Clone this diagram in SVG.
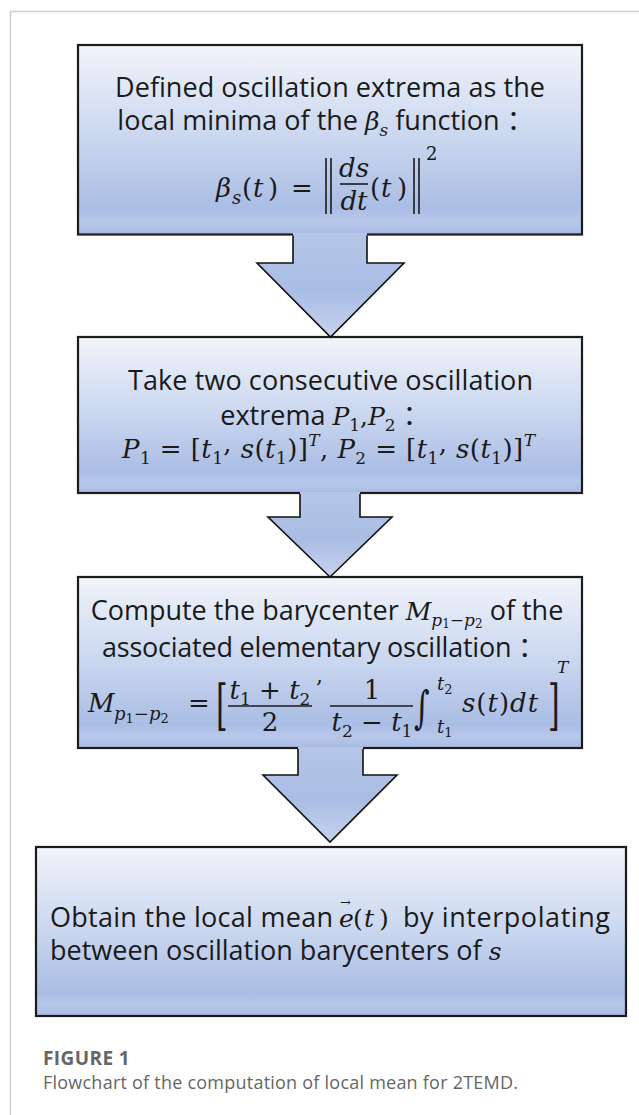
<svg xmlns="http://www.w3.org/2000/svg" width="639" height="1115" viewBox="0 0 639 1115">
<defs>
<linearGradient id="gBox" x1="0" y1="0" x2="0" y2="1">
<stop offset="0" stop-color="#f1f4fa"/>
<stop offset="0.5" stop-color="#c9d6ef"/>
<stop offset="0.86" stop-color="#aabde4"/>
<stop offset="0.93" stop-color="#b7c7ea"/>
<stop offset="1" stop-color="#a9bce3"/>
</linearGradient>
<linearGradient id="gArrow" x1="0" y1="0" x2="0" y2="1">
<stop offset="0" stop-color="#b5c6e7"/>
<stop offset="0.55" stop-color="#a9bce3"/>
<stop offset="1" stop-color="#c6d3ee"/>
</linearGradient>
<style>
.box{fill:url(#gBox);stroke:#1c1c1c;stroke-width:2.2}
.afill{fill:url(#gArrow);stroke:none}
.aline{fill:none;stroke:#111;stroke-width:1.6;stroke-linejoin:miter}
.t{font-family:"Open Sans","Noto Sans CJK SC",sans-serif;font-size:27px;fill:#1a1a1a}
.m{font-family:"DejaVu Serif","Liberation Serif",serif;font-style:italic;fill:#1a1a1a}
.r{font-style:normal}
.bar{stroke:#1a1a1a;stroke-width:1.6}
.cap{font-family:"Open Sans",sans-serif;fill:#666}
</style>
</defs>
<rect width="639" height="1115" fill="#fff"/>
<path d="M10.5,1115 V11.5 H639" fill="none" stroke="#cfcfcf" stroke-width="1.5"/>

<g id="node1">
<rect class="box" x="78" y="45" width="504" height="189.5"/>
<text class="t" x="115" y="97" textLength="430" lengthAdjust="spacing">Defined oscillation extrema as the</text>
<text class="t" x="325.5" y="130" text-anchor="middle">local minima of the <tspan class="m" font-size="25">β</tspan><tspan class="m" font-size="17" dy="6">s</tspan><tspan dy="-6"> function ：</tspan></text>
<g class="m" font-size="26">
<text x="216" y="197">β</text>
<text x="232" y="204" font-size="18">s</text>
<text x="242" y="197"><tspan class="r">(</tspan><tspan x="253">t</tspan><tspan class="r" x="268">)</tspan></text>
<text class="r" x="291" y="197">=</text>
<text x="354" y="177" text-anchor="middle">ds</text>
<text x="354" y="210" text-anchor="middle">dt</text>
<text x="370" y="197"><tspan class="r">(</tspan><tspan x="381">t</tspan><tspan class="r" x="397">)</tspan></text>
<text class="r" x="426" y="160" font-size="18">2</text>
</g>
<line class="bar" x1="340" y1="184" x2="368" y2="184"/>
<line class="bar" x1="326" y1="158" x2="326" y2="214"/>
<line class="bar" x1="331" y1="158" x2="331" y2="214"/>
<line class="bar" x1="414" y1="158" x2="414" y2="214"/>
<line class="bar" x1="419" y1="158" x2="419" y2="214"/>
</g>

<g id="node2">
<rect class="box" x="78" y="337" width="504" height="156"/>
<text class="t" x="128" y="390" textLength="405" lengthAdjust="spacing">Take two consecutive oscillation</text>
<text class="t" x="325" y="425" text-anchor="middle">extrema <tspan class="m" font-size="25">P</tspan><tspan class="m r" font-size="17" dy="6">1</tspan><tspan class="m r" font-size="25" dy="-6">,</tspan><tspan class="m" font-size="25">P</tspan><tspan class="m r" font-size="17" dy="6">2</tspan><tspan dy="-6">  ：</tspan></text>
<text class="m" font-size="26" x="328.5" y="458" text-anchor="middle" textLength="413" lengthAdjust="spacing">P<tspan class="r" font-size="17" dy="6">1</tspan><tspan class="r" dy="-6"> = [</tspan>t<tspan class="r" font-size="17" dy="6">1</tspan><tspan class="r" dy="-12">,</tspan><tspan dy="6"> s</tspan><tspan class="r">(</tspan>t<tspan class="r" font-size="17" dy="6">1</tspan><tspan class="r" dy="-6">)]</tspan><tspan font-size="17" dy="-12">T</tspan><tspan class="r" dy="12">, </tspan>P<tspan class="r" font-size="17" dy="6">2</tspan><tspan class="r" dy="-6"> = [</tspan>t<tspan class="r" font-size="17" dy="6">1</tspan><tspan class="r" dy="-12">,</tspan><tspan dy="6"> s</tspan><tspan class="r">(</tspan>t<tspan class="r" font-size="17" dy="6">1</tspan><tspan class="r" dy="-6">)]</tspan><tspan font-size="17" dy="-12">T</tspan></text>
</g>

<g id="node3">
<rect class="box" x="78" y="577" width="504" height="171"/>
<text class="t" x="327" y="620" text-anchor="middle">Compute the barycenter <tspan class="m" font-size="25">M</tspan><tspan class="m" font-size="17" dy="6">p</tspan><tspan class="m r" font-size="12" dy="2">1</tspan><tspan class="m r" font-size="17" dy="-2">−</tspan><tspan class="m" font-size="17">p</tspan><tspan class="m r" font-size="12" dy="2">2</tspan><tspan dy="-8"> of the</tspan></text>
<text class="t" x="102" y="657" textLength="443" lengthAdjust="spacing">associated elementary oscillation  ：</text>
<g class="m" font-size="26">
<text x="88" y="712">M</text>
<text x="114" y="720" font-size="18">p<tspan class="r" font-size="13" dy="3">1</tspan><tspan class="r" dy="-3">−</tspan>p<tspan class="r" font-size="13" dy="3">2</tspan></text>
<text class="r" x="188" y="712">=</text>
<text class="r" transform="translate(216,724) scale(1,1.8)" font-size="30">[</text>
<text x="270" y="699" text-anchor="middle">t<tspan class="r" font-size="17" dy="6">1</tspan><tspan class="r" dy="-6"> + </tspan>t<tspan class="r" font-size="17" dy="6">2</tspan></text>
<text class="r" x="270" y="731" text-anchor="middle">2</text>
<text class="r" x="316" y="683" font-size="22">,</text>
<text class="r" x="372" y="699" text-anchor="middle">1</text>
<text x="372" y="731" text-anchor="middle">t<tspan class="r" font-size="17" dy="6">2</tspan><tspan class="r" dy="-6"> − </tspan>t<tspan class="r" font-size="17" dy="6">1</tspan></text>
<text transform="translate(414,723) scale(1,1.5)" font-size="30">∫</text>
<text x="437" y="690" font-size="18">t<tspan class="r" font-size="13" dy="4">2</tspan></text>
<text x="437" y="733" font-size="18">t<tspan class="r" font-size="13" dy="4">1</tspan></text>
<text x="462" y="712" letter-spacing="1">s<tspan class="r">(</tspan>t<tspan class="r">)</tspan>dt</text>
<text class="r" transform="translate(548,724) scale(1,1.8)" font-size="30">]</text>
<text x="557" y="673" font-size="17">T</text>
</g>
<line class="bar" x1="228" y1="706" x2="312" y2="706"/>
<line class="bar" x1="330" y1="706" x2="413" y2="706"/>
</g>

<g id="node4">
<rect class="box" x="36" y="847" width="590" height="169"/>
<text class="t" x="50" y="927" textLength="283" lengthAdjust="spacing">Obtain the local mean</text>
<g class="m" font-size="25">
<text x="339" y="927">e</text>
<text class="r" x="340" y="907" font-size="13">→</text>
<text x="353" y="927"><tspan class="r">(</tspan><tspan x="364">t</tspan><tspan class="r" x="379">)</tspan></text>
</g>
<text class="t" x="403" y="927" textLength="207" lengthAdjust="spacing">by interpolating</text>
<text class="t" x="50" y="960">between oscillation barycenters of <tspan class="m" font-size="25">s</tspan></text>
</g>

<g id="connectors">
<polygon class="afill" points="293,233 293,263 257,263 330.5,337 404,263 367,263 367,233"/>
<polyline class="aline" points="293,235.5 293,263 257,263 330.5,337 404,263 367,263 367,235.5"/>
<polygon class="afill" points="300,491.5 300,517 268,517 330,577 392,517 360,517 360,491.5"/>
<polyline class="aline" points="300,494 300,517 268,517 330,577 392,517 360,517 360,494"/>
<polygon class="afill" points="298,746.5 298,775 263,775 330,842 397,775 363,775 363,746.5"/>
<polyline class="aline" points="298,749 298,775 263,775 330,842 397,775 363,775 363,749"/>
</g>

<g id="caption">
<text class="cap" x="43" y="1065" font-size="19" font-weight="700" letter-spacing="0.4">FIGURE 1</text>
<text class="cap" x="43" y="1089" font-size="18" textLength="475" lengthAdjust="spacing">Flowchart of the computation of local mean for 2TEMD.</text>
</g>
</svg>
